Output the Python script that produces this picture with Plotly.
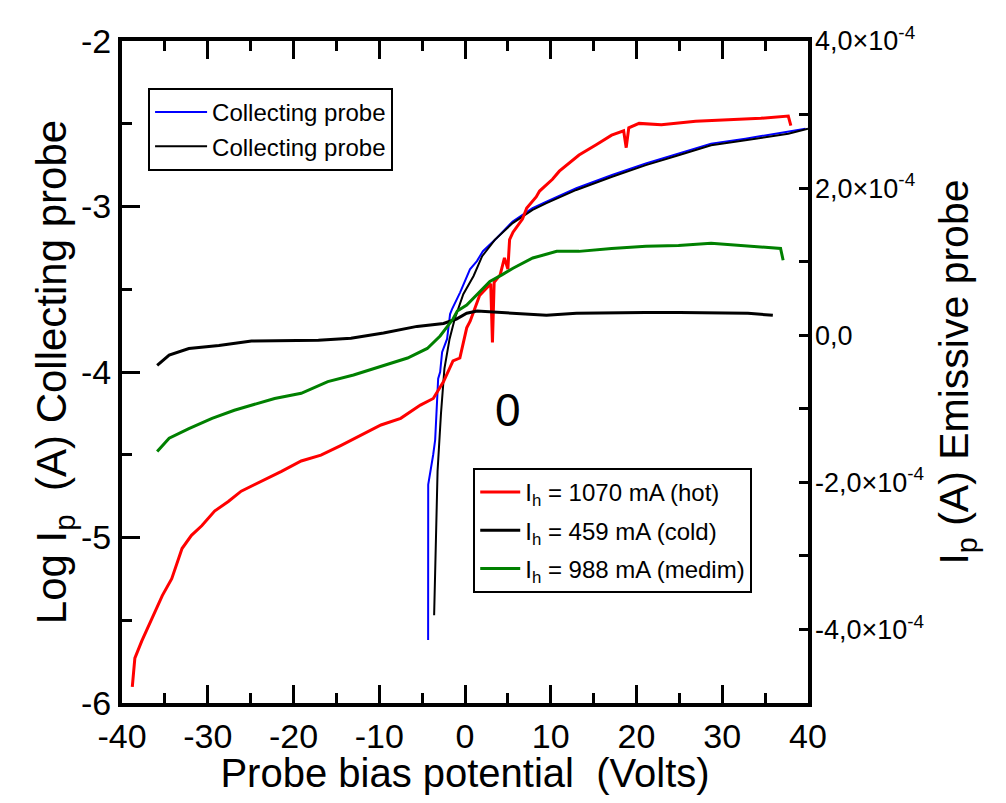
import plotly.graph_objects as go

# collecting probe (left axis, log Ip)
coll_blue_x = [-4.3, -4.29, -3.71, -3.48, -3.13, -2.9, -2.67, -2.09, -1.74, -1.51, -0.58, 0.58, 1.39, 2.09,
               3.71, 5.56, 7.88, 9.5, 12.98, 17.15, 21.09, 24.9, 28.7, 32.7, 37.7, 39.7]
coll_blue_y = [-5.62, -4.68, -4.5, -4.41, -4.04, -4.0, -3.88, -3.8, -3.65, -3.62, -3.52, -3.38, -3.33, -3.27,
               -3.19, -3.09, -3.01, -2.97, -2.89, -2.81, -2.74, -2.68, -2.62, -2.59, -2.55, -2.53]
coll_black_x = [-3.6, -3.5, -3.4, -3.2, -2.8, -2.4, -1.8, -1.2, -0.2, 1.0, 2.0, 3.5, 5.56, 7.88, 9.5,
                12.98, 17.15, 21.09, 24.9, 28.7, 32.7, 37.7, 40.0]
coll_black_y = [-5.47, -5.2, -5.0, -4.6, -4.25, -3.98, -3.8, -3.68, -3.53, -3.42, -3.3, -3.2, -3.1, -3.02, -2.98,
                -2.9, -2.82, -2.75, -2.69, -2.63, -2.6, -2.56, -2.53]

# emissive probe (right axis, Ip in units of 1e-4 A)
hot_x = [-38.8, -38.5, -37.7, -36.5, -35.3, -34.2, -33.0, -31.9, -30.7, -29.2, -27.6, -26.1, -23.8, -21.4,
         -19.1, -16.8, -14.5, -12.2, -9.8, -7.5, -5.2, -3.7, -2.5, -1.4, -0.6, 0.2, 0.6, 1.7, 3.0, 3.2, 3.4,
         4.1, 4.6, 5.0, 5.2, 5.6, 6.7, 7.2, 8.3, 8.7, 10.2, 11.0, 13.3, 15.3, 17.1, 18.5, 18.8, 19.1, 20.3,
         22.9, 26.9, 30.7, 34.5, 37.7, 38.0]
hot_ip = [-4.78, -4.39, -4.16, -3.85, -3.54, -3.31, -2.9, -2.72, -2.59, -2.39, -2.26, -2.12, -1.99, -1.85,
          -1.71, -1.63, -1.5, -1.36, -1.22, -1.13, -0.95, -0.86, -0.63, -0.35, -0.31, 0.1, 0.19, 0.54, 0.7, -0.1, 0.72,
          0.82, 1.05, 0.9, 1.3, 1.4, 1.58, 1.73, 1.88, 1.96, 2.12, 2.23, 2.45, 2.59, 2.72, 2.78, 2.55, 2.82, 2.88,
          2.86, 2.91, 2.93, 2.95, 2.98, 2.85]
cold_x = [-35.9, -34.5, -32.2, -28.7, -24.9, -21.1, -17.1, -13.3, -9.5, -5.6, -2.5, -1.0, 0.2, 1.4, 5.6,
          9.5, 13.0, 17.0, 21.0, 25.0, 29.0, 33.0, 35.9]
cold_ip = [-0.41, -0.27, -0.18, -0.14, -0.08, -0.08, -0.07, -0.04, 0.03, 0.12, 0.16, 0.22, 0.3, 0.33, 0.3,
           0.27, 0.3, 0.31, 0.31, 0.31, 0.31, 0.3, 0.27]
med_x = [-35.9, -34.5, -32.2, -29.5, -26.9, -24.9, -22.2, -19.1, -16.0, -13.0, -9.8, -6.7, -4.4, -2.9, -1.4,
         -0.9, 0.2, 1.7, 2.9, 4.3, 5.6, 7.9, 10.7, 13.3, 17.1, 21.1, 24.9, 28.7, 32.7, 36.8, 37.1]
med_ip = [-1.58, -1.4, -1.27, -1.13, -1.02, -0.95, -0.86, -0.79, -0.63, -0.54, -0.42, -0.31, -0.18, -0.01, 0.22,
          0.33, 0.41, 0.58, 0.73, 0.82, 0.91, 1.05, 1.14, 1.14, 1.18, 1.21, 1.22, 1.25, 1.22, 1.18, 1.02]

x_ticks = [-40, -30, -20, -10, 0, 10, 20, 30, 40]
left_ticks = [-6, -5, -4, -3, -2]
right_ticks = [-4e-4, -2e-4, 0, 2e-4, 4e-4]
right_labels = ["-4,0×10<sup>-4</sup>", "-2,0×10<sup>-4</sup>", "0,0", "2,0×10<sup>-4</sup>", "4,0×10<sup>-4</sup>"]

FONT = "Liberation Sans, Arial, sans-serif"

fig = go.Figure()
fig.add_trace(go.Scatter(x=coll_blue_x, y=coll_blue_y, mode="lines", name="Collecting probe",
                         line=dict(color="#0000ff", width=2), legend="legend", legendgroup="a"))
fig.add_trace(go.Scatter(x=coll_black_x, y=coll_black_y, mode="lines", name="Collecting probe",
                         line=dict(color="black", width=2), legend="legend", legendgroup="b"))
fig.add_trace(go.Scatter(x=hot_x, y=[v * 1e-4 for v in hot_ip], mode="lines", yaxis="y2",
                         name="I<sub>h</sub> = 1070 mA (hot)", line=dict(color="#ff0000", width=3),
                         legend="legend2", legendgroup="c"))
fig.add_trace(go.Scatter(x=cold_x, y=[v * 1e-4 for v in cold_ip], mode="lines", yaxis="y2",
                         name="I<sub>h</sub> = 459 mA (cold)", line=dict(color="black", width=3),
                         legend="legend2", legendgroup="d"))
fig.add_trace(go.Scatter(x=med_x, y=[v * 1e-4 for v in med_ip], mode="lines", yaxis="y2",
                         name="I<sub>h</sub> = 988 mA (medim)", line=dict(color="#008000", width=3),
                         legend="legend2", legendgroup="e"))

fig.add_annotation(x=5.0, y=-4.23, text="0", showarrow=False, font=dict(size=46, color="black", family=FONT))

# page body has an 8px margin, so the figure is a bit smaller than the window
fig.update_layout(
    width=990, height=787,
    margin=dict(l=114, r=190, t=33, b=89),
    paper_bgcolor="white", plot_bgcolor="white",
    font=dict(family=FONT, color="black"),
    showlegend=True,
    xaxis=dict(range=[-40, 40], tickmode="array", tickvals=x_ticks, ticktext=[str(v) for v in x_ticks],
               showgrid=False, zeroline=False,
               showline=True, linecolor="black", linewidth=4, mirror="ticks",
               ticks="inside", ticklen=18, tickwidth=3, tickcolor="black",
               minor=dict(tickmode="linear", tick0=0, dtick=5, ticks="inside", ticklen=10, tickwidth=3, tickcolor="black"),
               tickfont=dict(size=34), title=dict(text="Probe bias potential  (Volts)", font=dict(size=40), standoff=0)),
    yaxis=dict(range=[-6, -2], tickmode="array", tickvals=left_ticks, ticktext=[str(v) for v in left_ticks],
               showgrid=False, zeroline=False,
               showline=True, linecolor="black", linewidth=4, mirror=True,
               ticks="inside", ticklen=18, tickwidth=3, tickcolor="black",
               minor=dict(tickmode="linear", tick0=0, dtick=0.5, ticks="inside", ticklen=10, tickwidth=3, tickcolor="black"),
               tickfont=dict(size=34), title=dict(text="Log I<sub>p</sub>  (A) Collecting probe", font=dict(size=42), standoff=0)),
    yaxis2=dict(overlaying="y", side="right", range=[-5e-4, 4e-4], showgrid=False, zeroline=False,
                showline=False, tickmode="array", tickvals=right_ticks, ticktext=right_labels,
                ticks="inside", ticklen=9, tickwidth=3, tickcolor="black", ticklabelstandoff=6,
                minor=dict(tickmode="linear", tick0=0, dtick=1e-4, ticks="inside", ticklen=9, tickwidth=3, tickcolor="black"),
                tickfont=dict(size=27), title=dict(text="I<sub>p</sub> (A) Emissive probe", font=dict(size=41), standoff=16)),
    legend=dict(x=0.038, y=0.929, xanchor="left", yanchor="top", bgcolor="white", itemwidth=52,
                bordercolor="black", borderwidth=2, font=dict(size=24), tracegroupgap=0, traceorder="grouped"),
    legend2=dict(x=0.512, y=0.355, xanchor="left", yanchor="top", bgcolor="white", itemwidth=40,
                 bordercolor="black", borderwidth=2, font=dict(size=24), tracegroupgap=4, traceorder="grouped"),
)

fig.write_html("out.html")
